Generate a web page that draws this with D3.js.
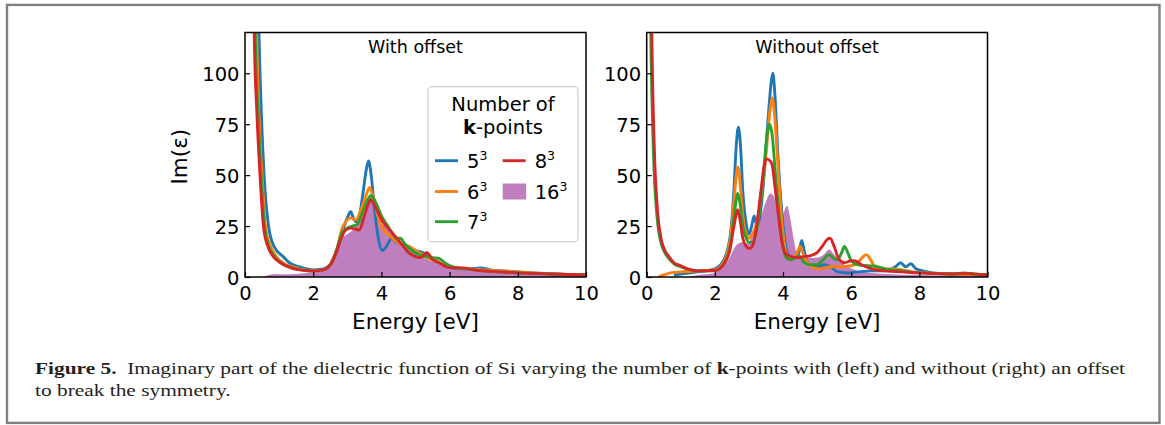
<!DOCTYPE html>
<html>
<head>
<meta charset="utf-8">
<script src="https://cdn.jsdelivr.net/npm/d3@7"></script>
<style>
  html, body { margin: 0; padding: 0; background: #fff; }
  svg text { font-family: "DejaVu Sans", sans-serif; }
  .cap text { font-family: "Liberation Serif", serif; white-space: pre; }
</style>
</head>
<body>
<div class="graph"></div>
<script>
// ---- data: [energy (eV), Im(eps)] ----
const energyTicks = [0, 2, 4, 6, 8, 10];
const imTicks = [0, 25, 50, 75, 100];
const kLabels = ["5", "6", "7", "8", "16"];
const panelTitles = ["With offset", "Without offset"];

// with offset
const left5 = [[0.3,250],[0.41,120],[0.48,80],[0.56,50],[0.69,25],[0.85,15],[1.12,10],[1.3,7],[1.6,5],[2.0,3.5],[2.3,4],[2.5,6],[2.7,13],[2.85,22],[3.0,29],[3.1,32],[3.2,28],[3.3,27],[3.45,40],[3.55,52],[3.62,57],[3.7,50],[3.8,33],[3.9,20],[4.02,13],[4.15,15],[4.3,19],[4.45,17],[4.6,16],[4.8,15],[5.0,13],[5.2,12],[5.4,10],[5.6,8],[5.8,6],[6.0,5],[6.3,4],[6.6,4],[6.9,4.5],[7.2,3.5],[7.6,3],[8.0,2.5],[8.5,2],[9,1.5],[10,1]];
const left6 = [[0.24,250],[0.34,120],[0.42,75],[0.5,50],[0.6,25],[0.75,15],[0.92,10],[1.1,7],[1.4,5],[2.0,3],[2.3,3.5],[2.5,6],[2.7,14],[2.85,24],[2.95,27],[3.1,29],[3.25,28],[3.4,33],[3.55,40],[3.65,44],[3.75,40],[3.85,33],[4.0,25],[4.2,21],[4.4,18],[4.6,16],[4.8,15],[5.0,13],[5.2,11],[5.4,9],[5.6,8],[5.8,6],[6.0,5],[6.5,4],[7.0,3.5],[7.5,3],[8,2.5],[9,1.5],[10,1]];
const left7 = [[0.22,250],[0.3,120],[0.38,80],[0.47,50],[0.57,25],[0.7,15],[0.87,10],[1.05,7],[1.3,5],[2.0,3],[2.3,3.5],[2.5,6],[2.7,14],[2.85,22],[3.0,24],[3.15,25],[3.3,26],[3.45,32],[3.6,38],[3.7,40],[3.85,36],[4.0,30],[4.15,26],[4.3,22],[4.45,19],[4.55,19],[4.7,16],[4.9,13],[5.1,11],[5.3,10],[5.5,9.5],[5.7,9],[5.9,6.5],[6.1,5],[6.5,4],[7,3],[7.5,2.5],[8,2],[9,1.5],[10,1]];
const left8 = [[0.2,250],[0.27,120],[0.35,80],[0.44,50],[0.54,25],[0.65,16],[0.83,10],[1.0,7.5],[1.27,5],[1.6,3.5],[2.0,3],[2.3,3.5],[2.5,6],[2.65,11],[2.8,18],[2.95,23],[3.1,24],[3.25,23.5],[3.35,23],[3.5,30],[3.62,36],[3.7,38],[3.8,35],[3.95,30],[4.1,26],[4.25,23],[4.4,20],[4.6,16],[4.8,12],[5.0,10],[5.15,9.5],[5.33,12],[5.5,8.5],[5.7,7],[5.9,5],[6.1,4.5],[6.4,4.5],[6.7,3.5],[7.0,3],[7.5,2.5],[8,2],[9,1.5],[10,1]];
const left16 = [[0.5,0],[0.7,1],[0.9,1.5],[1.1,1.3],[1.5,1.5],[2.0,2.5],[2.3,3.5],[2.5,6],[2.7,13],[2.85,19],[3.0,21],[3.15,23],[3.3,26],[3.45,30],[3.6,36],[3.7,41],[3.8,39],[3.9,34],[4.0,29],[4.2,24],[4.4,20],[4.6,17],[4.8,14],[5.0,12],[5.3,9],[5.6,7],[6.0,5],[6.5,4],[7,3],[8,2],[9,1.5],[10,1]];

// without offset
const right5 = [[0.8,1],[1.0,1.5],[1.5,2.5],[2.0,4],[2.25,8],[2.45,20],[2.55,40],[2.63,65],[2.69,73.5],[2.75,65],[2.82,42],[2.92,26],[3.0,21],[3.08,25],[3.15,30],[3.22,26],[3.3,28],[3.42,45],[3.55,75],[3.65,95],[3.7,100],[3.76,90],[3.85,60],[3.95,35],[4.05,18],[4.15,11],[4.3,9],[4.45,11],[4.55,18],[4.62,13],[4.72,7],[4.85,5],[5.0,5],[5.2,6],[5.4,5],[5.6,2.5],[5.9,2],[6.2,2.5],[6.6,3],[7.0,3],[7.3,5],[7.45,7],[7.6,5],[7.75,6.5],[7.9,4],[8.1,3],[8.4,2],[9,1.5],[10,1]];
const right6 = [[0.35,0],[0.5,1],[0.7,2],[1.0,2.5],[1.5,3],[2.0,3.5],[2.25,7],[2.45,18],[2.55,35],[2.63,50],[2.67,54],[2.73,48],[2.82,30],[2.92,21],[3.0,19],[3.1,21],[3.2,25],[3.35,38],[3.5,60],[3.62,82],[3.68,88],[3.75,80],[3.85,55],[3.95,30],[4.05,15],[4.15,10],[4.3,9.5],[4.42,12],[4.5,15],[4.6,11],[4.72,7],[4.9,4.5],[5.1,4],[5.4,5],[5.7,5],[6.0,5.5],[6.2,7],[6.35,10],[6.45,11],[6.55,9],[6.7,5],[6.9,4],[7.2,4],[7.5,3.5],[7.8,2.5],[8.2,2],[9,1.5],[10,1]];
const right7 = [[0.05,250],[0.12,120],[0.2,60],[0.3,30],[0.4,18],[0.5,13],[0.65,9],[0.8,6.5],[1.0,5],[1.3,3.5],[1.7,3],[2.0,3],[2.25,6],[2.45,15],[2.55,28],[2.63,38],[2.67,41],[2.73,37],[2.82,25],[2.92,19],[3.0,17],[3.1,17],[3.25,25],[3.4,45],[3.52,68],[3.6,75],[3.68,70],[3.78,50],[3.9,28],[4.0,15],[4.12,9],[4.25,8.5],[4.4,10],[4.5,10],[4.6,7.5],[4.8,6],[5.0,6],[5.15,8],[5.35,11],[5.5,9],[5.6,8.5],[5.72,12],[5.8,15],[5.9,12],[6.0,8],[6.2,6],[6.5,5.5],[6.8,5],[7.0,4],[7.5,3],[8,2],[9,1.5],[9.3,2],[9.6,1.5],[10,1]];
const right8 = [[0.08,250],[0.15,120],[0.22,65],[0.32,32],[0.42,19],[0.52,13.5],[0.65,10],[0.8,7],[1.0,5.5],[1.2,4],[1.5,3],[2.0,3.2],[2.25,6],[2.45,14],[2.55,24],[2.63,31],[2.67,33],[2.73,29],[2.82,19],[2.92,15],[3.0,14],[3.1,15],[3.2,22],[3.35,42],[3.45,55],[3.52,58],[3.62,57],[3.68,55],[3.78,42],[3.88,28],[3.98,16],[4.1,11],[4.25,10],[4.4,9.5],[4.6,10],[4.8,10.5],[5.0,12],[5.15,15],[5.3,18.5],[5.38,19],[5.5,15],[5.62,9.5],[5.8,7],[6.0,8],[6.1,8],[6.3,6],[6.6,4],[7.0,3],[7.5,2.5],[8,2],[9,1.5],[9.3,1.8],[10,1]];
const right16 = [[1.2,0],[1.5,1],[2.0,2],[2.25,5],[2.45,10],[2.6,15],[2.8,17],[2.95,16.5],[3.1,20],[3.3,27],[3.5,37],[3.62,41],[3.72,40],[3.85,32],[3.95,28],[4.05,33],[4.12,35],[4.2,30],[4.3,20],[4.4,12],[4.55,10],[4.8,9.5],[5.0,9.5],[5.2,11],[5.35,13.5],[5.5,11],[5.65,8],[5.9,5],[6.2,3],[6.6,2],[7,1.5],[8,1],[9,0.8],[10,0.5]];

const lineColors = ["#1f77b4", "#ff7f0e", "#2ca02c", "#d62728"];
const fillColor = "purple";

const W = 1165, H = 425;
const svg = d3.select(".graph").append("svg")
  .attr("width", W).attr("height", H);

// outer frame of the figure
svg.append("rect")
  .attr("x", 7).attr("y", 4.9).attr("width", 1152.5).attr("height", 418)
  .attr("fill", "none").attr("stroke", "#808080").attr("stroke-width", 2.4);

const yTop = 32.5, yBot = 277;
const panels = [
  {x0: 245, x1: 586, title: panelTitles[0], lines: [left5, left6, left7, left8], fill: left16, ylabel: true},
  {x0: 646.7, x1: 987.5, title: panelTitles[1], lines: [right5, right6, right7, right8], fill: right16, ylabel: false}
];

panels.forEach(function(p, pi) {
  const x = d3.scaleLinear().domain([0, 10]).range([p.x0, p.x1]);
  const y = d3.scaleLinear().domain([0, 120]).range([yBot, yTop]);
  const g = svg.append("g");

  const clipId = "clip" + pi;
  svg.append("clipPath").attr("id", clipId).append("rect")
    .attr("x", p.x0).attr("y", yTop).attr("width", p.x1 - p.x0).attr("height", yBot - yTop);

  const plot = g.append("g").attr("clip-path", "url(#" + clipId + ")");

  // 16^3 shaded
  const area = d3.area()
    .x(d => x(d[0])).y0(y(0)).y1(d => y(d[1]))
    .curve(d3.curveMonotoneX);
  plot.append("path").datum(p.fill)
    .attr("d", area)
    .attr("fill", fillColor).attr("fill-opacity", 0.5);

  const line = d3.line()
    .x(d => x(d[0])).y(d => y(d[1]))
    .curve(d3.curveMonotoneX);
  p.lines.forEach(function(s, i) {
    plot.append("path").datum(s)
      .attr("d", line)
      .attr("fill", "none")
      .attr("stroke", lineColors[i])
      .attr("stroke-width", 2.9)
      .attr("stroke-linejoin", "round");
  });

  // axes, ticks pointing inward
  const xAxis = d3.axisBottom(x).tickValues(energyTicks).tickSizeInner(-5).tickSizeOuter(0).tickPadding(9);
  const yAxis = d3.axisLeft(y).tickValues(imTicks).tickSizeInner(-5).tickSizeOuter(0).tickPadding(9);
  const gx = g.append("g").attr("transform", "translate(0," + yBot + ")").call(xAxis);
  const gy = g.append("g").attr("transform", "translate(" + p.x0 + ",0)").call(yAxis);
  [gx, gy].forEach(a => {
    a.select(".domain").remove();
    a.selectAll(".tick line").attr("stroke", "#000").attr("stroke-width", 1.2);
    a.selectAll("text").attr("font-size", 19.5).attr("fill", "#000")
      .style("font-family", "DejaVu Sans");
  });
  gx.selectAll("text").attr("dy", null).attr("y", 22.5);
  gy.selectAll("text").attr("x", -5.5).attr("dy", "0.36em");

  // frame
  g.append("rect")
    .attr("x", p.x0).attr("y", yTop).attr("width", p.x1 - p.x0).attr("height", yBot - yTop)
    .attr("fill", "none").attr("stroke", "#000").attr("stroke-width", 1.5);

  g.append("text")
    .attr("x", (p.x0 + p.x1) / 2).attr("y", 52.5)
    .attr("text-anchor", "middle").attr("font-size", 17.5)
    .text(p.title);

  g.append("text")
    .attr("x", (p.x0 + p.x1) / 2).attr("y", 328.5)
    .attr("text-anchor", "middle").attr("font-size", 21.5)
    .text("Energy [eV]");

  if (p.ylabel) {
    g.append("text")
      .attr("transform", "translate(186.5,156.7) rotate(-90)")
      .attr("text-anchor", "middle").attr("font-size", 21.5)
      .text("Im(ε)");
  }
});

// legend (sits in left panel)
const legend = svg.append("g");
legend.append("rect")
  .attr("x", 428).attr("y", 86.7).attr("width", 150).attr("height", 155)
  .attr("rx", 4).attr("fill", "#fff").attr("fill-opacity", 0.8)
  .attr("stroke", "#d0d0d0").attr("stroke-width", 1.2);
legend.append("text").attr("x", 503).attr("y", 110.7)
  .attr("text-anchor", "middle").attr("font-size", 19.5).text("Number of");
const lt = legend.append("text").attr("x", 503).attr("y", 133.5)
  .attr("text-anchor", "middle").attr("font-size", 19.5);
lt.append("tspan").attr("font-weight", "bold").text("k");
lt.append("tspan").text("-points");

const rowsY = [160.7, 191.5, 221.7];
const entries = [
  {col: 0, row: 0, i: 0}, {col: 0, row: 1, i: 1}, {col: 0, row: 2, i: 2},
  {col: 1, row: 0, i: 3}, {col: 1, row: 1, i: 4}
];
const colX = [435, 502.7];
entries.forEach(function(e) {
  const cy = rowsY[e.row];
  const hx = colX[e.col];
  if (e.i < 4) {
    legend.append("line")
      .attr("x1", hx).attr("x2", hx + 23).attr("y1", cy).attr("y2", cy)
      .attr("stroke", lineColors[e.i]).attr("stroke-width", 2.9);
  } else {
    legend.append("rect")
      .attr("x", hx).attr("y", cy - 8).attr("width", 23.5).attr("height", 16)
      .attr("fill", fillColor).attr("fill-opacity", 0.5);
  }
  const t = legend.append("text").attr("x", hx + 32).attr("y", cy + 7)
    .attr("font-size", 19.5);
  t.append("tspan").text(kLabels[e.i]);
  t.append("tspan").attr("font-size", 12.5).attr("dy", -8).text("3");
});

// caption
const cap = svg.append("g").attr("class", "cap");
const capSize = 17;
const line1 = cap.append("text").attr("x", 0).attr("y", 374).attr("font-size", capSize).attr("fill", "#231f20");
line1.append("tspan").attr("font-weight", "bold").text("Figure 5.");
line1.append("tspan").text("  Imaginary part of the dielectric function of Si varying the number of ");
line1.append("tspan").attr("font-weight", "bold").text("k");
line1.append("tspan").text("-points with (left) and without (right) an offset");
const line2 = cap.append("text").attr("x", 0).attr("y", 396).attr("font-size", capSize).attr("fill", "#231f20")
  .text("to break the symmetry.");
const natural = line1.node().getComputedTextLength();
const k = natural > 0 ? 1091 / natural : 1;
cap.attr("transform", "translate(35,0) scale(" + k + ",1)");
</script>
</body>
</html>
